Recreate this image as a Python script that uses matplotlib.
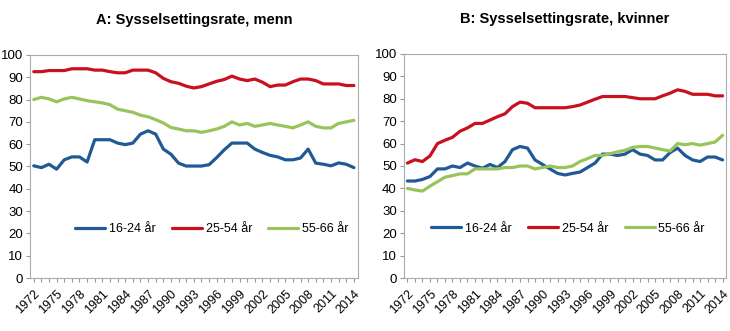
import numpy as np
from matplotlib import pyplot as plt

plt.rcParams['font.family'] = ['Liberation Sans', 'DejaVu Sans']

years = list(range(1972, 2015))
labels = ['16-24 år', '25-54 år', '55-66 år']
colors = ['#1f5a96', '#c8101e', '#99c45c']

# A: menn
men_16_24 = [50.3, 49.5, 51, 48.8, 53, 54.3, 54.3, 52, 62, 62,
             62, 60.5, 59.8, 60.5, 64.5, 66, 64.5, 57.8, 55.5, 51.5,
             50.2, 50.2, 50.2, 50.8, 54, 57.5, 60.5, 60.5, 60.5, 57.8,
             56.3, 55, 54.3, 53, 53, 53.8, 57.8, 51.5, 51, 50.3,
             51.6, 51, 49.5]
men_25_54 = [92.5, 92.5, 93, 93, 93, 93.8, 93.8, 93.8, 93.2, 93.2,
             92.5, 92, 92, 93.2, 93.2, 93.2, 92, 89.5, 88, 87.3,
             86, 85.2, 85.8, 87, 88.2, 89, 90.5, 89.2, 88.5, 89.2,
             87.8, 85.8, 86.5, 86.5, 88, 89.2, 89.2, 88.5, 87, 87,
             87, 86.3, 86.3]
men_55_66 = [80, 81, 80.3, 79, 80.3, 81, 80.3, 79.5, 79, 78.5,
             77.7, 75.7, 75, 74.3, 73, 72.3, 71, 69.5, 67.5, 66.8,
             66, 66, 65.3, 66, 66.8, 68, 70, 68.6, 69.3, 68,
             68.6, 69.3, 68.6, 68, 67.3, 68.6, 70, 68, 67.3, 67.3,
             69.3, 70, 70.7]

# B: kvinner
women_16_24 = [43.3, 43.3, 44, 45.3, 48.7, 48.7, 50, 49.3, 51.3, 50,
               49, 50.7, 49.3, 52, 57.3, 58.7, 58, 52.7, 50.7, 48.7,
               46.7, 46, 46.7, 47.3, 49.3, 51.3, 55.3, 55.3, 54.7, 55.3,
               57.3, 55.3, 54.7, 52.7, 52.7, 56, 58, 54.7, 52.7, 52,
               54, 54, 52.7]
women_25_54 = [51.3, 52.8, 52, 54.5, 60, 61.5, 62.8, 65.5, 67, 69,
               69, 70.5, 72, 73.3, 76.5, 78.5, 78, 76, 76, 76,
               76, 76, 76.5, 77.2, 78.5, 79.8, 81, 81, 81, 81,
               80.5, 80, 80, 80, 81.3, 82.5, 84, 83.3, 82, 82,
               82, 81.3, 81.3]
women_55_66 = [40, 39.3, 38.8, 41, 43, 45, 45.7, 46.5, 46.5, 48.7,
               48.7, 48.7, 48.7, 49.3, 49.3, 50, 50, 48.7, 49.3, 50,
               49.3, 49.3, 50, 52, 53.3, 54.7, 54.7, 55.5, 56.3, 57,
               58.3, 58.7, 58.7, 58, 57.3, 56.7, 60, 59.5, 60, 59.3,
               60, 60.7, 63.7]

panels = [
    ('A: Sysselsettingsrate, menn', [men_16_24, men_25_54, men_55_66],
     [0.041, 0.160, 0.449, 0.674], 0.555),
    ('B: Sysselsettingsrate, kvinner', [women_16_24, women_25_54, women_55_66],
     [0.553, 0.160, 0.442, 0.677], 0.51),
]

fig = plt.figure(figsize=(7.3, 3.31), dpi=100)

for title, series, rect, leg_x in panels:
    ax = fig.add_axes(rect)
    for vals, lab, c in zip(series, labels, colors):
        ax.plot(years, vals, color=c, lw=2.3, label=lab, solid_capstyle='round')
    ax.set_xlim(1971.5, 2014.5)
    ax.set_ylim(0, 100)
    ax.set_yticks(range(0, 101, 10))
    ax.set_xticks(years)
    ax.set_xticklabels([str(y) if (y - 1972) % 3 == 0 else '' for y in years],
                       rotation=45, ha='right', rotation_mode='anchor')
    ax.tick_params(axis='both', direction='out', length=3, width=0.8,
                   color='#999999', labelsize=9.5, pad=2)
    ax.tick_params(axis='x', pad=4, labelsize=9)
    for s in ax.spines.values():
        s.set_color('#aaaaaa')
        s.set_linewidth(0.8)
    ax.set_title(title, fontsize=10.5, fontweight='bold', pad=22)
    ax.legend(loc='center', bbox_to_anchor=(leg_x, 0.22), ncol=3, frameon=False,
              fontsize=9, handlelength=2.4, handletextpad=0.3, columnspacing=1.3)

plt.savefig('out.png', dpi=100)
